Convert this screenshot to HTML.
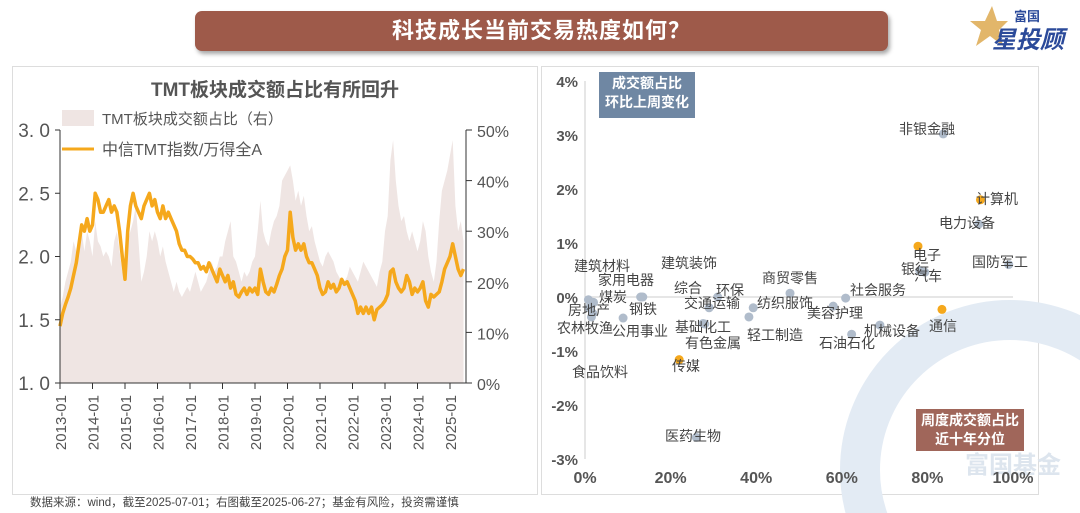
<!DOCTYPE html>
<html><head><meta charset="utf-8">
<style>
html,body{margin:0;width:1080px;height:513px;overflow:hidden}
body{background:#fff;font-family:"Liberation Sans","Noto Sans CJK SC",sans-serif;position:relative}
.abs{position:absolute}
</style></head>
<body>
<div class="abs" style="left:195px;top:11px;width:693px;height:40px;background:#9e5a4a;border-radius:7px;box-shadow:2px 3px 4px rgba(0,0,0,0.35);color:#fff;font-weight:bold;font-size:22px;line-height:40px;text-align:center;letter-spacing:1px">科技成长当前交易热度如何？</div>
<div class="abs" style="left:968px;top:4px;width:100px;height:46px">
<svg width="40" height="44" style="position:absolute;left:0;top:0"><polygon points="24,2 29,17 40,17 31,26 35,42 22,32 8,42 13,26 2,17 17,17" fill="#e2b66a"/></svg>
<div class="abs" style="left:46px;top:2px;font-size:13px;font-weight:bold;color:#2b4a9a">富国</div>
<div class="abs" style="left:24px;top:16px;font-size:24px;font-weight:bold;font-style:italic;color:#2b4a9a">星投顾</div>
</div>
<div class="abs" style="left:12px;top:66px;width:524px;height:427px;border:1px solid #ddd"></div>
<div class="abs" style="left:541px;top:66px;width:496px;height:427px;border:1px solid #ddd"></div>
<div class="abs" style="left:30px;top:495px;font-size:11.5px;line-height:16px;color:#444">数据来源：wind，截至2025-07-01；右图截至2025-06-27；基金有风险，投资需谨慎</div>
<svg class="abs" id="left" style="left:0;top:0" width="540" height="513"></svg>
<svg class="abs" id="right" style="left:540px;top:0" width="540" height="513"></svg>
<script>
const NS="http://www.w3.org/2000/svg";
const years=["2013-01","2014-01","2015-01","2016-01","2017-01","2018-01","2019-01","2020-01","2021-01","2022-01","2023-01","2024-01","2025-01"];
const leftTicks=["1.0","1.5","2.0","2.5","3.0"];
const rightTicks=["0%","10%","20%","30%","40%","50%"];
const ratio=[1.45,1.55,1.62,1.68,1.75,1.85,1.95,2.1,2.25,2.2,2.3,2.2,
2.25,2.5,2.45,2.35,2.35,2.4,2.45,2.35,2.4,2.35,2.2,2.0,
1.82,2.2,2.4,2.5,2.4,2.35,2.3,2.4,2.45,2.5,2.4,2.45,
2.35,2.3,2.4,2.3,2.35,2.3,2.25,2.2,2.1,2.05,2.05,2.0,
2.0,1.98,1.95,1.95,1.9,1.92,1.88,1.95,1.9,1.85,1.8,1.9,
1.85,1.8,1.85,1.75,1.8,1.7,1.68,1.72,1.75,1.7,1.75,1.72,
1.75,1.7,1.9,1.8,1.72,1.7,1.75,1.72,1.78,1.85,1.9,2.0,
2.05,2.35,2.15,2.05,2.1,2.05,2.1,2.0,1.95,1.95,1.9,1.85,
1.75,1.7,1.72,1.8,1.75,1.78,1.72,1.75,1.82,1.78,1.8,1.75,
1.7,1.65,1.55,1.6,1.55,1.6,1.55,1.6,1.5,1.58,1.6,1.62,
1.65,1.7,1.88,1.9,1.8,1.75,1.72,1.75,1.85,1.8,1.7,1.75,
1.72,1.75,1.8,1.65,1.6,1.7,1.68,1.7,1.72,1.8,1.9,1.95,
2.0,2.1,2.0,1.9,1.85,1.9];
const share=[15,17,20,22,24,28,26,25,30,26,30,28,
25,32,28,27,25,26,25,23,28,30,26,22,
22,28,30,32,35,28,20,22,25,30,28,30,
28,25,27,24,22,20,18,20,18,17,18,19,
18,20,22,20,18,19,20,22,24,22,23,25,
25,28,30,32,25,24,22,20,22,21,22,24,
25,30,36,30,28,27,30,32,33,35,40,41,
42,43,40,36,38,35,37,33,30,31,28,26,
24,23,25,26,25,24,22,21,20,20,21,23,
22,21,20,22,24,23,22,21,20,19,22,24,
30,33,44,48,40,35,32,33,30,28,30,28,
26,28,32,30,25,22,20,24,32,38,40,42,
45,48,35,30,32,28];
function el(p,t,a,txt){const e=document.createElementNS(NS,t);for(const k in a)e.setAttribute(k,a[k]);if(txt!==undefined)e.textContent=txt;p.appendChild(e);return e;}
const L=document.getElementById('left');
const X0=60,X1=466,Y0=383,Y1=130;
const xm=i=>X0+i*(450-60)/144;
const yl=v=>Y0-(v-1)/2*(Y0-Y1);
const yr=v=>Y0-v/50*(Y0-Y1);
let t=el(L,'text',{x:275,y:96,'text-anchor':'middle','font-size':19,'font-weight':'bold',fill:'#555'},'TMT板块成交额占比有所回升');

let d='M'+xm(0)+','+Y0;share.forEach((v,i)=>d+=' L'+xm(i).toFixed(1)+','+yr(v).toFixed(1));d+=' L'+xm(share.length-1)+','+Y0+'Z';
let a=el(L,'path',{d:d,fill:'#efe5e3'});
let d2='';ratio.forEach((v,i)=>d2+=(i?' L':'M')+xm(i).toFixed(1)+','+yl(v).toFixed(1));
let ln=el(L,'path',{d:d2,fill:'none',stroke:'#f5a81c','stroke-width':3.5,'stroke-linejoin':'round'});
el(L,'line',{x1:X0,y1:Y1,x2:X0,y2:Y0,stroke:'#333','stroke-width':1});
el(L,'line',{x1:X1,y1:Y1,x2:X1,y2:Y0,stroke:'#333','stroke-width':1});
el(L,'line',{x1:X0,y1:Y0,x2:X1,y2:Y0,stroke:'#333','stroke-width':1});
leftTicks.forEach((s,i)=>{const y=yl(1+i*0.5);el(L,'line',{x1:X0-5,y1:y,x2:X0,y2:y,stroke:'#333'});let q=el(L,'text',{x:50,y:y+7,'text-anchor':'end','font-size':19,fill:'#555'},s.replace('.','. '));});
rightTicks.forEach((s,i)=>{const y=yr(i*10);el(L,'line',{x1:X1,y1:y,x2:X1+6,y2:y,stroke:'#333'});let q=el(L,'text',{x:477,y:y+7,'font-size':16,fill:'#555'},s);});
years.forEach((s,i)=>{const x=xm(i*12);el(L,'line',{x1:x,y1:Y0,x2:x,y2:Y0+6,stroke:'#333'});let q=el(L,'text',{x:0,y:0,transform:`translate(${x+6},${Y0+12}) rotate(-90)`,'text-anchor':'end','font-size':15,fill:'#555'},s);});
let lg1=el(L,'rect',{x:62,y:110,width:32,height:16,fill:'#efe5e3'});
t=el(L,'text',{x:102,y:124,'font-size':15,fill:'#555'},'TMT板块成交额占比（右）');
el(L,'line',{x1:62,y1:149,x2:94,y2:149,stroke:'#f5a81c','stroke-width':3});
t=el(L,'text',{x:102,y:155,'font-size':16,fill:'#555'},'中信TMT指数/万得全A');
// right chart
const R=document.getElementById('right');
const inds=["非银金融","计算机","电力设备","电子","银行","汽车","国防军工","通信","社会服务","美容护理","机械设备","石油石化","商贸零售","纺织服饰","轻工制造","环保","交通运输","基础化工","有色金属","传媒","医药生物","综合","建筑装饰","钢铁","公用事业","家用电器","煤炭","房地产","农林牧渔","食品饮料","建筑材料"];
const pct=[83.7,92.4,92,77.8,78.2,79.4,99,83.4,60.9,58,68.9,62.3,47.9,39.3,38.3,31,29,27.6,28,22,26,13.2,13,13.5,8.9,2,1.5,1,1.5,1.8,0.8];
const chg=[3.02,1.8,1.35,0.94,0.49,0.46,0.6,-0.23,-0.02,-0.17,-0.52,-0.69,0.07,-0.2,-0.37,0.0,-0.2,-0.49,-0.5,-1.16,-2.6,0.0,0.0,0.0,-0.39,-0.1,-0.15,-0.2,-0.37,-0.3,-0.05];
const hot=["计算机","电子","通信","传媒"];
const lab=[[927,129],[997,199],[967,223],[927,255],[915,269],[928,276],[1000,262],[943,326],[878,290],[835,313],[892,331],[847,343],[790,278],[785,303],[775,335],[730,290],[712,303],[703,327],[713,343],[686,366],[693,436],[688,288],[689,263],[643,309],[640,331],[626,280],[613,297],[589,310],[585,328],[600,372],[602,266]];
const sx=v=>45+v/100*(1013-585);
const sy=v=>297-v*54;
el(R,'circle',{cx:470,cy:470,r:150,fill:'none',stroke:'#e3ebf4','stroke-width':40});
t=el(R,'text',{x:425,y:473,'font-size':24,'font-weight':'bold',fill:'#dde5ee'},'富国基金');
el(R,'line',{x1:sx(0),y1:sy(4),x2:sx(0),y2:sy(-3),stroke:'#ccc'});
el(R,'line',{x1:sx(0),y1:sy(0),x2:sx(100),y2:sy(0),stroke:'#ccc'});
[4,3,2,1,0,-1,-2,-3].forEach(v=>{let q=el(R,'text',{x:38,y:sy(v)+6,'text-anchor':'end','font-size':15,'font-weight':'bold',fill:'#555'},v+'%');});
[0,20,40,60,80,100].forEach(v=>{let q=el(R,'text',{x:sx(v),y:483,'text-anchor':'middle','font-size':16,'font-weight':'bold',fill:'#555'},v+'%');});
inds.forEach((n,i)=>{const x=sx(pct[i]),y=sy(chg[i]);const h=hot.includes(n);
let c=el(R,'circle',{cx:x,cy:y,r:4.5,fill:h?'#f5a81c':'#b0bccb'});});
inds.forEach((n,i)=>{let q=el(R,'text',{x:lab[i][0]-540,y:lab[i][1]+5,'text-anchor':'middle','font-size':14,fill:'#444'},n);});
</script>
<div class="abs" style="left:599px;top:72px;width:96px;height:44px;background:#6f87a3;color:#fff;font-weight:bold;font-size:14px;line-height:19px;text-align:center;padding-top:2px">成交额占比<br>环比上周变化</div>
<div class="abs" style="left:916px;top:409px;width:108px;height:40px;background:#a0665a;color:#fff;font-weight:bold;font-size:14px;line-height:19px;text-align:center;padding-top:2px">周度成交额占比<br>近十年分位</div>
</body></html>
